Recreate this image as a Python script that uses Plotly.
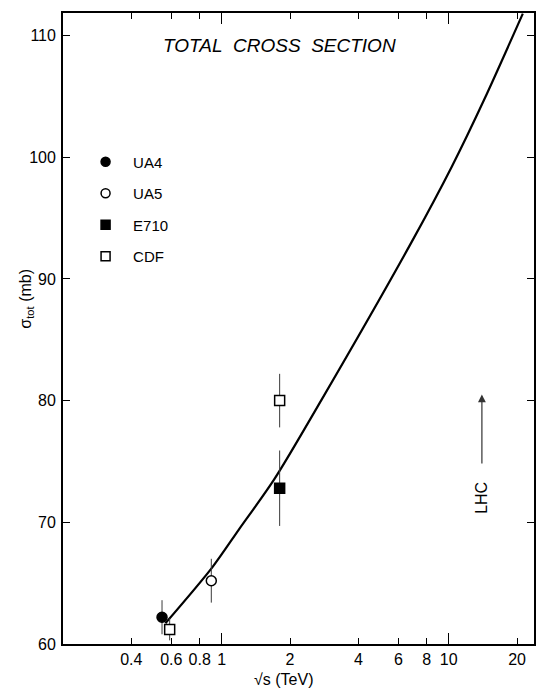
import math
import plotly.graph_objects as go

# Measurements: sqrt(s) in TeV, sigma_tot in mb, symmetric error
ua4_x = [0.546]
ua4_y = [62.2]
ua4_err = [1.4]

ua5_x = [0.9]
ua5_y = [65.2]
ua5_err = [1.8]

e710_x = [1.8]
e710_y = [72.8]
e710_err = [3.1]

cdf_x = [0.59, 1.8]
cdf_y = [61.2, 80.0]
cdf_err = [0.9, 2.2]

# Fit curve through the data and extrapolated upward
fit_x = [0.565, 0.909, 1.19, 1.70, 2.76, 6.85, 10.3, 14.3, 21.2]
fit_y = [61.7, 66.3, 69.4, 73.5, 80.1, 93.0, 99.2, 104.7, 111.8]

# Axis ticks
x_ticks = [0.4, 0.6, 0.8, 1, 2, 4, 6, 8, 10, 20]
x_tick_text = ["0.4", "0.6", "0.8", "1", "2", "4", "6", "8", "10", "20"]
x_long_ticks = [1, 10]
y_ticks = [60, 70, 80, 90, 100, 110]

# LHC energy marker
lhc_x = 14.0
lhc_tip = 80.5
lhc_tail = 74.7
lhc_label_y = 72.0

FONT = "Liberation Sans, Arial, sans-serif"
ERR_COLOR = "#3a3a3a"

fig = go.Figure()

fig.add_trace(go.Scatter(
    x=fit_x, y=fit_y, mode="lines", line=dict(color="black", width=2.2, shape="spline", smoothing=0.8),
    showlegend=False, hoverinfo="skip"))


def points(x, y, err, symbol, fill):
    return go.Scatter(
        x=x, y=y, mode="markers", showlegend=False,
        error_y=dict(type="data", array=err, visible=True, color=ERR_COLOR, thickness=1, width=0),
        marker=dict(symbol=symbol, size=10, color=fill, line=dict(color="black", width=1.5)))


fig.add_trace(points(ua4_x, ua4_y, ua4_err, "circle", "black"))
fig.add_trace(points(ua5_x, ua5_y, ua5_err, "circle", "white"))
fig.add_trace(points(e710_x, e710_y, e710_err, "square", "black"))
fig.add_trace(points(cdf_x, cdf_y, cdf_err, "square", "white"))

# Legend entries
legend_items = [("UA4", "circle", "black"), ("UA5", "circle", "white"),
                ("E710", "square", "black"), ("CDF", "square", "white")]
for name, sym, fill in legend_items:
    fig.add_trace(go.Scatter(
        x=[None], y=[None], mode="markers", name=name, legendgroup=name,
        marker=dict(symbol=sym, size=9, color=fill, line=dict(color="black", width=1.5))))

x_lo = math.log10(0.2)
x_hi = x_lo + 473 / 228

fig.update_layout(
    width=536, height=689,
    margin=dict(l=63, r=0, t=13, b=45),
    paper_bgcolor="white", plot_bgcolor="white",
    font=dict(family=FONT, size=16, color="black"),
    xaxis=dict(type="log", range=[x_lo, x_hi], tickvals=x_ticks, ticktext=x_tick_text,
               ticks="inside", ticklen=6, tickwidth=1.3, tickcolor="black",
               showline=True, linecolor="black", linewidth=2, mirror="ticks",
               showgrid=False, zeroline=False, tickfont=dict(size=16)),
    xaxis2=dict(type="log", range=[x_lo, x_hi], overlaying="x", tickvals=x_long_ticks,
                showticklabels=False, ticks="inside", ticklen=11, tickwidth=1.3, tickcolor="black",
                mirror="ticks", showline=False, showgrid=False, zeroline=False),
    yaxis=dict(range=[60, 111.85], tickvals=y_ticks, ticks="inside", ticklen=7, tickwidth=1.3,
               tickcolor="black", showline=True, linecolor="black", linewidth=1.8, mirror="ticks",
               showgrid=False, zeroline=False, tickfont=dict(size=16), ticklabelstandoff=2),
    legend=dict(x=0.032, y=0.79, xanchor="left", yanchor="top", bgcolor="rgba(0,0,0,0)",
                font=dict(size=15), tracegroupgap=9, itemwidth=45),
    showlegend=True,
)

# Invisible trace to activate the secondary x axis for the longer decade ticks
fig.add_trace(go.Scatter(x=[1], y=[None], xaxis="x2", showlegend=False, hoverinfo="skip"))

fig.add_annotation(text="<i>TOTAL\u00a0 CROSS\u00a0 SECTION</i>", xref="paper", yref="paper",
                   x=0.459, y=0.949, xanchor="center", yanchor="middle",
                   showarrow=False, font=dict(size=19))
fig.add_annotation(text="σ<sub>tot</sub> (mb)", xref="paper", yref="y", x=-0.078, y=88.4,
                   xanchor="center", yanchor="middle",
                   textangle=-90, showarrow=False, font=dict(size=16))
fig.add_annotation(text="√s (TeV)", xref="paper", yref="paper", x=0.469, y=-0.056,
                   xanchor="center", yanchor="middle", showarrow=False, font=dict(size=16))
fig.add_annotation(x=math.log10(lhc_x), y=lhc_tip, ax=math.log10(lhc_x), ay=lhc_tail,
                   xref="x", yref="y", axref="x", ayref="y", text="", showarrow=True,
                   arrowhead=2, arrowsize=1.3, arrowwidth=1.2, arrowcolor="#333", standoff=0)
fig.add_annotation(text="LHC", x=math.log10(lhc_x), y=lhc_label_y, xref="x", yref="y",
                   xanchor="center", yanchor="middle",
                   textangle=-90, showarrow=False, font=dict(size=16))

fig.write_html("out.html")
